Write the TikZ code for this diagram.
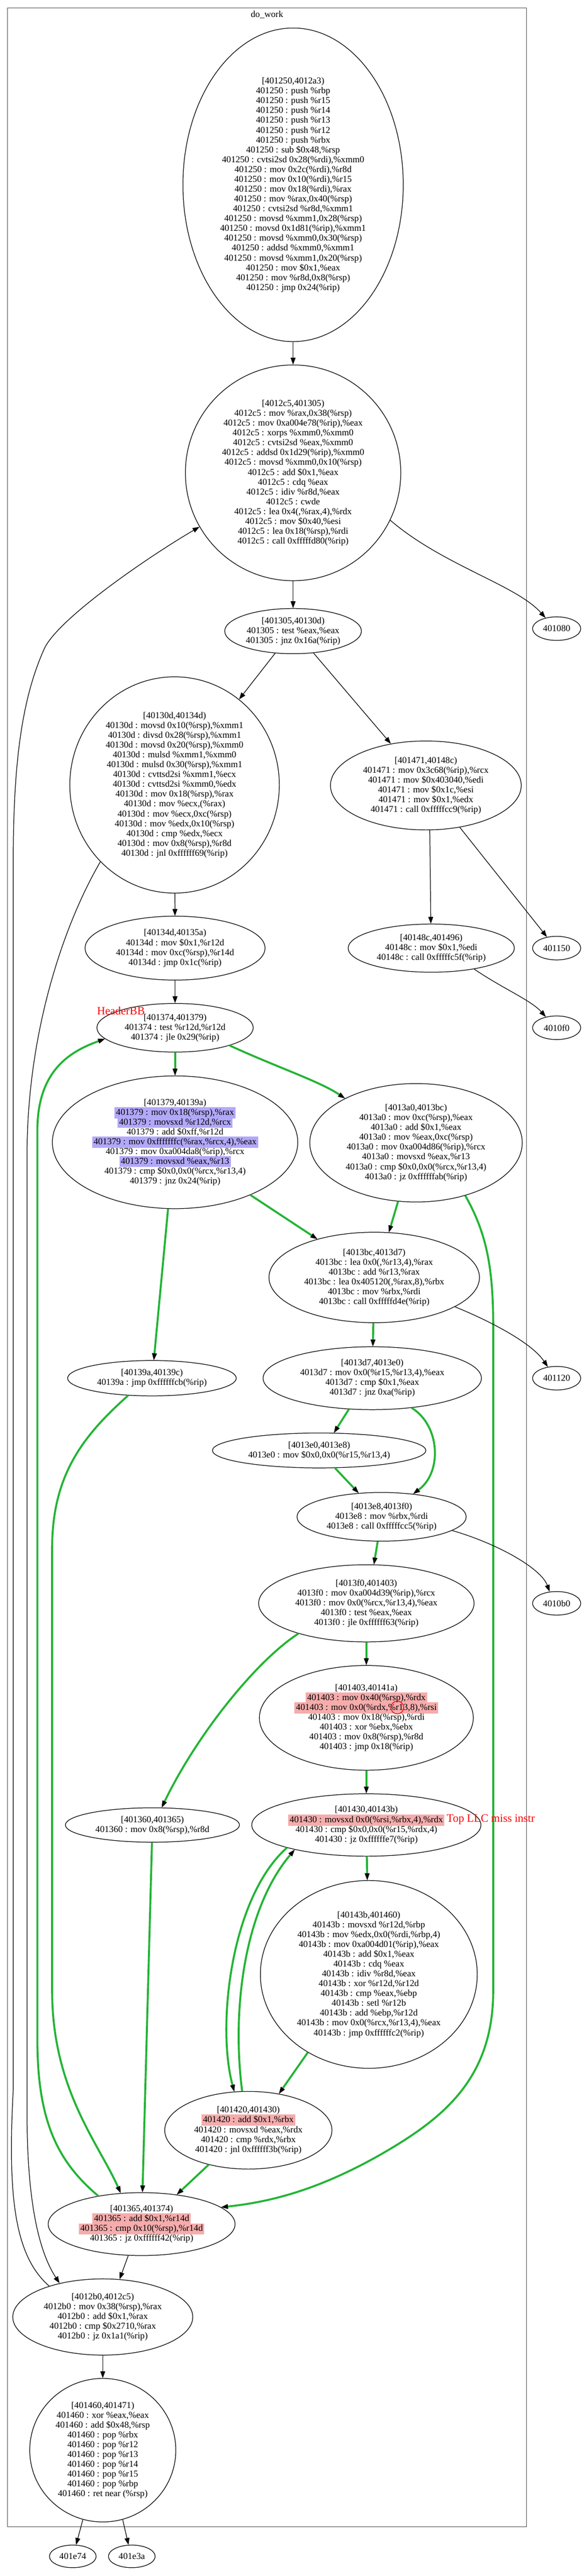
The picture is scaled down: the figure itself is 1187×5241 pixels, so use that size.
\documentclass[tikz,border=0pt]{standalone}
\usepackage{fontspec}
\setmainfont{Liberation Serif}
\usetikzlibrary{shapes.geometric,arrows.meta}
\definecolor{hotgreen}{RGB}{34,180,52}
\definecolor{hlblue}{RGB}{178,168,250}
\definecolor{hlred}{RGB}{246,172,172}
\newcommand{\hlb}[1]{{\setlength{\fboxsep}{3pt}\smash{\colorbox{hlblue}{#1}}}}
\newcommand{\hlr}[1]{{\setlength{\fboxsep}{3pt}\smash{\colorbox{hlred}{#1}}}}

\begin{document}
\begin{tikzpicture}[x=1pt, y=-1pt,
    bb/.style={draw, ellipse, line width=1.3pt, inner sep=-40pt, align=center, font=\fontsize{18.5}{20}\selectfont},
    ext/.style={draw, ellipse, line width=1.3pt, inner sep=0pt, minimum width=98pt, minimum height=48pt, font=\fontsize{18.5}{20}\selectfont},
    edge/.style={line width=1.3pt, -{Triangle[length=14pt,width=10pt]}},
    hot/.style={draw=hotgreen, line width=4pt, -{Triangle[length=14pt,width=10pt,color=black,line width=0.6pt]}},
    note/.style={text=red, font=\fontsize{23}{26}\selectfont}]
    \useasboundingbox (0,0) rectangle (1187,5241);
    \fill [white] (0,0) rectangle (1187,5241);
    \draw [line width=1.4pt, black!70] (15,16) rectangle (1071,5141);
    \node [font=\fontsize{18.5}{20}\selectfont] (dowork) at (543,30) {do\_work};

    \node [bb, minimum width=448pt, minimum height=638pt] (n401250) at (596,376) {[401250,4012a3)\\
      401250 : push \%rbp\\ 401250 : push \%r15\\ 401250 : push \%r14\\ 401250 : push \%r13\\
      401250 : push \%r12\\ 401250 : push \%rbx\\ 401250 : sub \$0x48,\%rsp\\
      401250 : cvtsi2sd 0x28(\%rdi),\%xmm0\\ 401250 : mov 0x2c(\%rdi),\%r8d\\
      401250 : mov 0x10(\%rdi),\%r15\\ 401250 : mov 0x18(\%rdi),\%rax\\
      401250 : mov \%rax,0x40(\%rsp)\\ 401250 : cvtsi2sd \%r8d,\%xmm1\\
      401250 : movsd \%xmm1,0x28(\%rsp)\\ 401250 : movsd 0x1d81(\%rip),\%xmm1\\
      401250 : movsd \%xmm0,0x30(\%rsp)\\ 401250 : addsd \%xmm0,\%xmm1\\
      401250 : movsd \%xmm1,0x20(\%rsp)\\ 401250 : mov \$0x1,\%eax\\
      401250 : mov \%r8d,0x8(\%rsp)\\ 401250 : jmp 0x24(\%rip)};
    \node [bb, minimum width=438pt, minimum height=439pt] (n4012c5) at (596,962) {[4012c5,401305)\\
      4012c5 : mov \%rax,0x38(\%rsp)\\ 4012c5 : mov 0xa004e78(\%rip),\%eax\\
      4012c5 : xorps \%xmm0,\%xmm0\\ 4012c5 : cvtsi2sd \%eax,\%xmm0\\
      4012c5 : addsd 0x1d29(\%rip),\%xmm0\\ 4012c5 : movsd \%xmm0,0x10(\%rsp)\\
      4012c5 : add \$0x1,\%eax\\ 4012c5 : cdq \%eax\\ 4012c5 : idiv \%r8d,\%eax\\
      4012c5 : cwde\\ 4012c5 : lea 0x4(,\%rax,4),\%rdx\\ 4012c5 : mov \$0x40,\%esi\\
      4012c5 : lea 0x18(\%rsp),\%rdi\\ 4012c5 : call 0xfffffd80(\%rip)};
    \node [bb, minimum width=278pt, minimum height=92pt] (n401305) at (596,1284) {[401305,40130d)\\
      401305 : test \%eax,\%eax\\ 401305 : jnz 0x16a(\%rip)};
    \node [ext] (x401080) at (1132,1279) {401080};
    \node [bb, minimum width=426pt, minimum height=440pt] (n40130d) at (355,1597) {[40130d,40134d)\\
      40130d : movsd 0x10(\%rsp),\%xmm1\\ 40130d : divsd 0x28(\%rsp),\%xmm1\\
      40130d : movsd 0x20(\%rsp),\%xmm0\\ 40130d : mulsd \%xmm1,\%xmm0\\
      40130d : mulsd 0x30(\%rsp),\%xmm1\\ 40130d : cvttsd2si \%xmm1,\%ecx\\
      40130d : cvttsd2si \%xmm0,\%edx\\ 40130d : mov 0x18(\%rsp),\%rax\\
      40130d : mov \%ecx,(\%rax)\\ 40130d : mov \%ecx,0xc(\%rsp)\\
      40130d : mov \%edx,0x10(\%rsp)\\ 40130d : cmp \%edx,\%ecx\\
      40130d : mov 0x8(\%rsp),\%r8d\\ 40130d : jnl 0xffffff69(\%rip)};
    \node [bb, minimum width=388pt, minimum height=181pt] (n401471) at (866,1598) {[401471,40148c)\\
      401471 : mov 0x3c68(\%rip),\%rcx\\ 401471 : mov \$0x403040,\%edi\\
      401471 : mov \$0x1c,\%esi\\ 401471 : mov \$0x1,\%edx\\ 401471 : call 0xfffffcc9(\%rip)};
    \node [bb, minimum width=366pt, minimum height=130pt] (n40134d) at (356,1929) {[40134d,40135a)\\
      40134d : mov \$0x1,\%r12d\\ 40134d : mov 0xc(\%rsp),\%r14d\\ 40134d : jmp 0x1c(\%rip)};
    \node [bb, minimum width=338pt, minimum height=98pt] (n40148c) at (877,1929) {[40148c,401496)\\
      40148c : mov \$0x1,\%edi\\ 40148c : call 0xfffffc5f(\%rip)};
    \node [ext] (x401150) at (1132,1929) {401150};
    \node [bb, minimum width=318pt, minimum height=99pt] (n401374) at (356,2091) {[401374,401379)\\
      401374 : test \%r12d,\%r12d\\ 401374 : jle 0x29(\%rip)};
    \node [ext] (x4010f0) at (1132,2091) {4010f0};
    \node [bb, minimum width=499pt, minimum height=270pt] (n401379) at (356,2324) {[401379,40139a)\\
      \hlb{401379 : mov 0x18(\%rsp),\%rax}\\ \hlb{401379 : movsxd \%r12d,\%rcx}\\
      401379 : add \$0xff,\%r12d\\ \hlb{401379 : mov 0xfffffffc(\%rax,\%rcx,4),\%eax}\\
      401379 : mov 0xa004da8(\%rip),\%rcx\\ \hlb{401379 : movsxd \%eax,\%r13}\\
      401379 : cmp \$0x0,0x0(\%rcx,\%r13,4)\\ 401379 : jnz 0x24(\%rip)};
    \node [bb, minimum width=432pt, minimum height=241pt] (n4013a0) at (846,2325) {[4013a0,4013bc)\\
      4013a0 : mov 0xc(\%rsp),\%eax\\ 4013a0 : add \$0x1,\%eax\\ 4013a0 : mov \%eax,0xc(\%rsp)\\
      4013a0 : mov 0xa004d86(\%rip),\%rcx\\ 4013a0 : movsxd \%eax,\%r13\\
      4013a0 : cmp \$0x0,0x0(\%rcx,\%r13,4)\\ 4013a0 : jz 0xffffffab(\%rip)};
    \node [bb, minimum width=428pt, minimum height=184pt] (n4013bc) at (761,2599) {[4013bc,4013d7)\\
      4013bc : lea 0x0(,\%r13,4),\%rax\\ 4013bc : add \%r13,\%rax\\
      4013bc : lea 0x405120(,\%rax,8),\%rbx\\ 4013bc : mov \%rbx,\%rdi\\ 4013bc : call 0xfffffd4e(\%rip)};
    \node [ext] (x401120) at (1132,2804) {401120};
    \node [bb, minimum width=343pt, minimum height=72pt] (n40139a) at (309,2804) {[40139a,40139c)\\
      40139a : jmp 0xffffffcb(\%rip)};
    \node [bb, minimum width=444pt, minimum height=128pt] (n4013d7) at (757,2804) {[4013d7,4013e0)\\
      4013d7 : mov 0x0(\%r15,\%r13,4),\%eax\\ 4013d7 : cmp \$0x1,\%eax\\ 4013d7 : jnz 0xa(\%rip)};
    \node [bb, minimum width=434pt, minimum height=71pt] (n4013e0) at (649,2951) {[4013e0,4013e8)\\
      4013e0 : mov \$0x0,0x0(\%r15,\%r13,4)};
    \node [bb, minimum width=344pt, minimum height=99pt] (n4013e8) at (776,3086) {[4013e8,4013f0)\\
      4013e8 : mov \%rbx,\%rdi\\ 4013e8 : call 0xfffffcc5(\%rip)};
    \node [bb, minimum width=438pt, minimum height=157pt] (n4013f0) at (745,3262) {[4013f0,401403)\\
      4013f0 : mov 0xa004d39(\%rip),\%rcx\\ 4013f0 : mov 0x0(\%rcx,\%r13,4),\%eax\\
      4013f0 : test \%eax,\%eax\\ 4013f0 : jle 0xffffff63(\%rip)};
    \node [ext] (x4010b0) at (1132,3262) {4010b0};
    \node [bb, minimum width=435pt, minimum height=213pt] (n401403) at (745,3495) {[401403,40141a)\\
      \hlr{401403 : mov 0x40(\%rsp),\%rdx}\\ \hlr{401403 : mov 0x0(\%rdx,\%r13,8),\%rsi}\\
      401403 : mov 0x18(\%rsp),\%rdi\\ 401403 : xor \%ebx,\%ebx\\
      401403 : mov 0x8(\%rsp),\%r8d\\ 401403 : jmp 0x18(\%rip)};
    \node [bb, minimum width=354pt, minimum height=70pt] (n401360) at (310,3713) {[401360,401365)\\
      401360 : mov 0x8(\%rsp),\%r8d};
    \node [bb, minimum width=466pt, minimum height=127pt] (n401430) at (745,3713) {[401430,40143b)\\
      \hlr{401430 : movsxd 0x0(\%rsi,\%rbx,4),\%rdx}\\ 401430 : cmp \$0x0,0x0(\%r15,\%rdx,4)\\
      401430 : jz 0xffffffe7(\%rip)};
    \node [bb, minimum width=441pt, minimum height=382pt] (n40143b) at (750,4017) {[40143b,401460)\\
      40143b : movsxd \%r12d,\%rbp\\ 40143b : mov \%edx,0x0(\%rdi,\%rbp,4)\\
      40143b : mov 0xa004d01(\%rip),\%eax\\ 40143b : add \$0x1,\%eax\\ 40143b : cdq \%eax\\
      40143b : idiv \%r8d,\%eax\\ 40143b : xor \%r12d,\%r12d\\ 40143b : cmp \%eax,\%ebp\\
      40143b : setl \%r12b\\ 40143b : add \%ebp,\%r12d\\ 40143b : mov 0x0(\%rcx,\%r13,4),\%eax\\
      40143b : jmp 0xffffffc2(\%rip)};
    \node [bb, minimum width=340pt, minimum height=158pt] (n401420) at (505,4334) {[401420,401430)\\
      \hlr{401420 : add \$0x1,\%rbx}\\ 401420 : movsxd \%eax,\%rdx\\ 401420 : cmp \%rdx,\%rbx\\
      401420 : jnl 0xffffff3b(\%rip)};
    \node [bb, minimum width=380pt, minimum height=128pt] (n401365) at (288,4525) {[401365,401374)\\
      \hlr{401365 : add \$0x1,\%r14d}\\ \hlr{401365 : cmp 0x10(\%rsp),\%r14d}\\ 401365 : jz 0xffffff42(\%rip)};
    \node [bb, minimum width=366pt, minimum height=155pt] (n4012b0) at (209,4714) {[4012b0,4012c5)\\
      4012b0 : mov 0x38(\%rsp),\%rax\\ 4012b0 : add \$0x1,\%rax\\ 4012b0 : cmp \$0x2710,\%rax\\
      4012b0 : jz 0x1a1(\%rip)};
    \node [bb, minimum width=297pt, minimum height=292pt] (n401460) at (209,4985) {[401460,401471)\\
      401460 : xor \%eax,\%eax\\ 401460 : add \$0x48,\%rsp\\ 401460 : pop \%rbx\\ 401460 : pop \%r12\\
      401460 : pop \%r13\\ 401460 : pop \%r14\\ 401460 : pop \%r15\\ 401460 : pop \%rbp\\
      401460 : ret near (\%rsp)};
    \node [ext, minimum width=95pt, minimum height=46pt] (x401e74) at (148,5201) {401e74};
    \node [ext, minimum width=95pt, minimum height=46pt] (x401e3a) at (268,5201) {401e3a};

    \draw [edge] (n401250) -- (n4012c5);
    \draw [edge] (n4012c5.-26) .. controls (900,1150) and (1050,1190) .. (x401080.136);
    \draw [edge] (n4012c5) -- (n401305);
    \draw [edge] (n401305.-129) -- (n40130d.53);
    \draw [edge] (n401305.-47) -- (n401471.130);
    \draw [edge] (n40130d) -- (n40134d);
    \draw [edge] (n40130d.-134) .. controls (130,1880) and (55,2100) .. (55,2350) -- (55,4300) .. controls (55,4500) and (85,4590) .. (n4012b0.142);
    \draw [edge] (n401471.-85) -- (n40148c.91);
    \draw [edge] (n401471.-51) -- (x401150.131);
    \draw [edge] (n40148c.-26) .. controls (1020,2010) and (1080,2035) .. (x4010f0.135);
    \draw [edge] (n40134d) -- (n401374);
    \draw [hot] (n401374) -- (n401379);
    \draw [hot] (n401374.-18) .. controls (560,2170) and (650,2200) .. (n4013a0.148);
    \draw [hot] (n401379.-96) -- (n40139a.84);
    \draw [hot] (n401379.-35) -- (n4013bc.146);
    \draw [hot] (n4013a0.-107) -- (n4013bc.72);
    \draw [hot] (n4013a0.-47) .. controls (990,2510) and (1003,2580) .. (1003,2700) -- (1003,4050) .. controls (1003,4230) and (900,4310) .. (780,4380) .. controls (650,4455) and (550,4480) .. (n401365.12);
    \draw [edge] (n4013bc.-20) .. controls (990,2685) and (1080,2730) .. (x401120.128);
    \draw [hot] (n4013bc) -- (n4013d7);
    \draw [hot] (n4013d7.-127) -- (n4013e0.50);
    \draw [hot] (n4013d7.-37) .. controls (895,2900) and (900,2995) .. (n4013e8.36);
    \draw [hot] (n4013e0.-48) -- (n4013e8.134);
    \draw [edge] (n4013e8.-11) .. controls (1010,3140) and (1100,3190) .. (x4010b0.121);
    \draw [hot] (n4013e8.-99) -- (n4013f0.79);
    \draw [hot] (n4013f0) -- (n401403);
    \draw [hot] (n4013f0.-156) .. controls (520,3380) and (400,3530) .. (n401360.62);
    \draw [hot] (n401403) -- (n401430);
    \draw [hot] (n401430) -- (n40143b);
    \draw [hot] (n401430.-164) .. controls (470,3860) and (440,4120) .. (n401420.110);
    \draw [hot] (n401420.99) .. controls (470,4080) and (500,3880) .. (n401430.-161);
    \draw [hot] (n40143b.-128) -- (n401420.50);
    \draw [hot] (n40139a.-144) .. controls (170,2920) and (106,3000) .. (106,3150) -- (106,4050) .. controls (106,4250) and (200,4360) .. (n401365.124);
    \draw [hot] (n401360) -- (n401365);
    \draw [hot] (n401420.-139) -- (n401365.40);
    \draw [hot] (n401365.147) .. controls (120,4400) and (76,4320) .. (76,4150) -- (76,2300) .. controls (76,2180) and (140,2140) .. (n401374.-171);
    \draw [edge] (n401365.-113) -- (n4012b0.66);
    \draw [edge] (n4012b0.150) .. controls (30,4590) and (15,4470) .. (27,4250) -- (27,1750) .. controls (27,1550) and (45,1420) .. (90,1320) .. controls (117,1260) and (298,1135) .. (n4012c5.-150);
    \draw [edge] (n4012b0) -- (n401460);
    \draw [edge] (n401460.-106) -- (x401e74.74);
    \draw [edge] (n401460.-74) -- (x401e3a.106);

    \node [note] (headerbb) at (246,2057) {HeaderBB};
    \node [note] (topllc) at (998,3702) {Top LLC miss instr};
    \draw [red, line width=1.5pt] ([shift={(63,-21)}]n401403.center) circle (13pt);
\end{tikzpicture}
\end{document}
